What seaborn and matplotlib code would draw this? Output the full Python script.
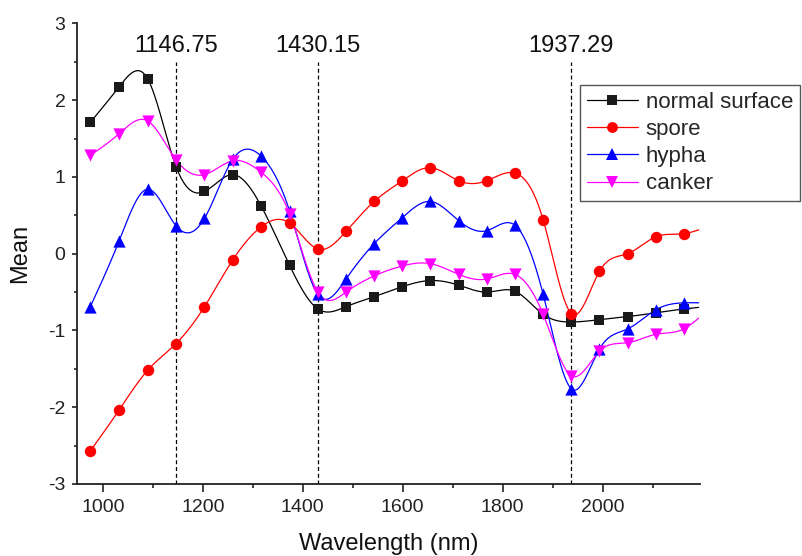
import numpy as np
import pandas as pd
import matplotlib
matplotlib.use("Agg")
import matplotlib.pyplot as plt
from matplotlib.lines import Line2D
import seaborn as sns

# ---------------- data ----------------
wavelength = [975.0, 1032.2, 1089.5, 1146.75, 1203.4, 1260.1, 1316.8, 1373.5,
              1430.15, 1486.5, 1542.8, 1599.2, 1655.5, 1711.9, 1768.2, 1824.6,
              1880.9, 1937.29, 1993.6, 2050.0, 2106.3, 2162.7, 2192.0]
n_markers = 22  # last wavelength is the end of the line only (no marker)

normal_surface = [1.71, 2.17, 2.28, 1.13, 0.81, 1.03, 0.62, -0.15,
                  -0.72, -0.69, -0.56, -0.43, -0.35, -0.41, -0.50, -0.49,
                  -0.79, -0.89, -0.86, -0.82, -0.77, -0.72, -0.70]
spore = [-2.57, -2.04, -1.52, -1.17, -0.69, -0.08, 0.35, 0.40,
         0.06, 0.29, 0.68, 0.95, 1.12, 0.95, 0.95, 1.05,
         0.44, -0.78, -0.23, 0.00, 0.22, 0.26, 0.31]
hypha = [-0.69, 0.16, 0.84, 0.36, 0.46, 1.23, 1.27, 0.56,
         -0.53, -0.33, 0.13, 0.47, 0.68, 0.43, 0.30, 0.37,
         -0.53, -1.76, -1.24, -0.98, -0.73, -0.64, -0.64]
canker = [1.28, 1.56, 1.73, 1.22, 1.03, 1.21, 1.06, 0.52,
          -0.50, -0.50, -0.29, -0.16, -0.13, -0.27, -0.33, -0.27,
          -0.79, -1.59, -1.27, -1.16, -1.05, -0.98, -0.84]

series_names = ["normal surface", "spore", "hypha", "canker"]
series_values = [normal_surface, spore, hypha, canker]
colors = ["#000000", "#ff0000", "#0000ff", "#ff00ff"]
marker_fill = ["#1a1a1a", "#ff0000", "#0000ff", "#ff00ff"]
markers = ["s", "o", "^", "v"]
marker_sizes = [7.2, 8.2, 8.8, 8.8]

peaks = [1146.75, 1430.15, 1937.29]
peak_labels = ["1146.75", "1430.15", "1937.29"]


def natural_spline(x, y, xs):
    x = np.asarray(x, float)
    y = np.asarray(y, float)
    n = len(x)
    h = np.diff(x)
    A = np.zeros((n, n))
    b = np.zeros(n)
    A[0, 0] = 1
    A[-1, -1] = 1
    for i in range(1, n - 1):
        A[i, i - 1] = h[i - 1]
        A[i, i] = 2 * (h[i - 1] + h[i])
        A[i, i + 1] = h[i]
        b[i] = 6 * ((y[i + 1] - y[i]) / h[i] - (y[i] - y[i - 1]) / h[i - 1])
    M = np.linalg.solve(A, b)
    idx = np.clip(np.searchsorted(x, xs) - 1, 0, n - 2)
    x0, x1 = x[idx], x[idx + 1]
    hh = x1 - x0
    t0 = x1 - xs
    t1 = xs - x0
    return (M[idx] * t0 ** 3 / (6 * hh) + M[idx + 1] * t1 ** 3 / (6 * hh)
            + (y[idx] / hh - M[idx] * hh / 6) * t0
            + (y[idx + 1] / hh - M[idx + 1] * hh / 6) * t1)


sns.set_theme(style="ticks")
plt.rcParams["font.family"] = ["Liberation Sans", "DejaVu Sans"]
plt.rcParams["axes.unicode_minus"] = False

fig = plt.figure(figsize=(8.03, 5.56), dpi=100)
ax = fig.add_axes([0.0963, 0.1295, 0.8713 - 0.0963, 0.958 - 0.1295])

xs = np.linspace(wavelength[0], wavelength[-1], 1500)
curve_frames = []
marker_frames = []
for name, vals in zip(series_names, series_values):
    curve_frames.append(pd.DataFrame({"wl": xs, "val": natural_spline(wavelength, vals, xs), "series": name}))
    marker_frames.append(pd.DataFrame({"wl": wavelength[:n_markers], "val": vals[:n_markers], "series": name}))
curves = pd.concat(curve_frames)
points = pd.concat(marker_frames)

palette = dict(zip(series_names, colors))

# dashed reference lines
ax.vlines(peaks, -3, 2.5, colors="#000000", linestyles=(0, (3.2, 2.2)), linewidth=0.9, zorder=1)
for p, lab in zip(peaks, peak_labels):
    ax.text(p, 2.71, lab, ha="center", va="center", fontsize=17, color="#111111")

sns.lineplot(data=curves, x="wl", y="val", hue="series", palette=palette,
             legend=False, sort=False, linewidth=0.9, ax=ax, zorder=2)
for name, fc, m, ms in zip(series_names, marker_fill, markers, marker_sizes):
    sns.scatterplot(data=points[points["series"] == name], x="wl", y="val",
                    color=fc, marker=m, s=ms ** 2, linewidth=0, legend=False,
                    ax=ax, zorder=3)

ax.set_xlim(949, 2194)
ax.set_ylim(-3, 3)
ax.set_xticks([1000, 1200, 1400, 1600, 1800, 2000])
ax.set_xticks(np.arange(1100, 2200, 200), minor=True)
ax.set_yticks([-3, -2, -1, 0, 1, 2, 3])
ax.set_yticks(np.arange(-2.5, 3, 1.0), minor=True)

for side in ["top", "right"]:
    ax.spines[side].set_visible(False)
for side in ["left", "bottom"]:
    ax.spines[side].set_linewidth(1.3)
    ax.spines[side].set_color("#222222")

ax.tick_params(axis="x", which="major", direction="out", length=5.5, width=1.2,
               labelsize=14, pad=5, colors="#222222")
ax.tick_params(axis="x", which="minor", direction="out", length=3, width=1.2, colors="#222222")
ax.tick_params(axis="y", which="major", direction="out", length=3.5, width=1.2,
               labelsize=14, pad=5, colors="#222222")
ax.tick_params(axis="y", which="minor", direction="out", length=2, width=1.2, colors="#222222")

ax.set_xlabel("Wavelength (nm)", fontsize=17, color="#111111")
ax.set_ylabel("Mean", fontsize=17, color="#111111")
ax.xaxis.set_label_coords(0.5, -0.106)
ax.yaxis.set_label_coords(-0.074, 0.5)

handles = [Line2D([0], [0], color=c, lw=0.9, marker=m, markersize=ms * 0.95,
                  markerfacecolor=fc, markeredgewidth=0)
           for c, fc, m, ms in zip(colors, marker_fill, markers, marker_sizes)]
leg = fig.legend(handles, series_names, loc="upper left",
                 bbox_to_anchor=(580 / 803, 1 - 85 / 556), fontsize=16,
                 frameon=True, fancybox=False, framealpha=1, edgecolor="#555555",
                 handlelength=2.3, handletextpad=0.35, labelspacing=0.28,
                 borderpad=0.3, borderaxespad=0)
leg.get_frame().set_linewidth(1.0)

fig.savefig("out.png", dpi=100)
